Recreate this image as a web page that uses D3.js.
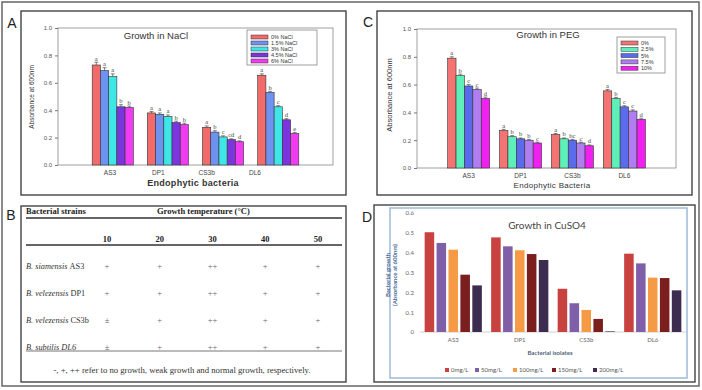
<!DOCTYPE html>
<html>
<head>
<meta charset="utf-8">
<script src="https://cdnjs.cloudflare.com/ajax/libs/d3/7.8.5/d3.min.js"></script>
<style>
  body { margin: 0; background: #fff; }
  svg { display: block; }
</style>
</head>
<body>
<svg id="fig"></svg>
<script>
'use strict'

// ---- data ----
var isolates = ["AS3", "DP1", "CS3b", "DL6"];

var naclSeries = ["0% NaCl", "1.5% NaCl", "3% NaCl", "4.5% NaCl", "6% NaCl"];
var naclValues = [
	[0.73, 0.69, 0.645, 0.425, 0.42],
	[0.38, 0.37, 0.355, 0.31, 0.295],
	[0.275, 0.24, 0.205, 0.185, 0.17],
	[0.655, 0.53, 0.425, 0.33, 0.23]
];
var naclErrors = [
	[0.02, 0.02, 0.02, 0.015, 0.01],
	[0.01, 0.01, 0.01, 0.01, 0.01],
	[0.01, 0.01, 0.008, 0.006, 0.006],
	[0.01, 0.008, 0.008, 0.008, 0.008]
];
var naclLetters = [
	["a", "a", "a", "b", "b"],
	["a", "a", "a", "b", "b"],
	["a", "b", "c", "cd", "d"],
	["a", "b", "c", "d", "e"]
];

var pegSeries = ["0%", "2.5%", "5%", "7.5%", "10%"];
var pegValues = [
	[0.79, 0.665, 0.59, 0.565, 0.50],
	[0.27, 0.225, 0.21, 0.20, 0.18],
	[0.24, 0.21, 0.20, 0.18, 0.16],
	[0.555, 0.50, 0.44, 0.41, 0.35]
];
var pegErrors = [
	[0.01, 0.01, 0.01, 0.01, 0.01],
	[0.008, 0.008, 0.006, 0.006, 0.006],
	[0.008, 0.006, 0.006, 0.006, 0.006],
	[0.01, 0.008, 0.008, 0.008, 0.008]
];
var pegLetters = [
	["a", "b", "c", "c", "d"],
	["a", "b", "b", "b", "c"],
	["a", "b", "bc", "c", "d"],
	["a", "b", "c", "c", "d"]
];

var cuSeries = ["0mg/L", "50mg/L", "100mg/L", "150mg/L", "200mg/L"];
var cuValues = [
	[0.503, 0.449, 0.415, 0.289, 0.235],
	[0.477, 0.432, 0.412, 0.393, 0.363],
	[0.218, 0.145, 0.111, 0.066, 0.003],
	[0.395, 0.346, 0.274, 0.272, 0.21]
];

var temps = ["10", "20", "30", "40", "50"];
var strainSpecies = ["B. siamensis", "B. velezensis", "B. velezensis", "B. subtilis"];
var strainCodes = ["AS3", "DP1", "CS3b", "DL6"];
var growth = [
	["+", "+", "++", "+", "+"],
	["+", "+", "++", "+", "+"],
	["\u00b1", "+", "++", "+", "+"],
	["\u00b1", "+", "++", "+", "+"]
];

// ---- styles ----
var W = 702, H = 390;
var naclColors = ["#f26b6b", "#6e92f0", "#3fe6e6", "#7b35dc", "#f03cf0"];
var pegColors = ["#f47474", "#5ef0b8", "#5a6cec", "#b07ef0", "#f020f0"];
var cuColors = ["#c8423f", "#7f60a8", "#f59a45", "#7a1e1e", "#3c2c50"];
var sans = "'Liberation Sans', Arial, sans-serif";
var serif = "'Liberation Serif', 'Times New Roman', serif";

var svg = d3.select("#fig").attr("width", W).attr("height", H);

// outer border + panel boxes
svg.append("rect").attr("x", 2).attr("y", 2).attr("width", 697).attr("height", 384)
	.style("fill", "none").style("stroke", "#666").style("stroke-width", 1.5);

var boxes = [[21, 11, 325, 184], [377, 11, 315, 184], [21, 206, 325, 176], [374, 205, 321, 177]];
boxes.forEach(function(b) {
	svg.append("rect").attr("x", b[0]).attr("y", b[1]).attr("width", b[2]).attr("height", b[3])
		.style("fill", "none").style("stroke", "#444").style("stroke-width", 1.4);
});

var panelLabels = [["A", 12, 28], ["B", 11, 220], ["C", 368, 27], ["D", 367, 222]];
panelLabels.forEach(function(p) {
	svg.append("text").attr("x", p[1]).attr("y", p[2]).attr("text-anchor", "middle")
		.style("font-family", sans).style("font-size", "14px").style("fill", "#222").text(p[0]);
});

drawSigmaPanel({
	left: 58, right: 333, top: 28, bottom: 165,
	padIn: 0.255, padOut: 0.62,
	labelRange: [110, 255],
	series: naclSeries, values: naclValues, errors: naclErrors, letters: naclLetters, colors: naclColors,
	title: "Growth in NaCl", titleX: 156, titleY: 39,
	xTitle: "Endophytic bacteria", xTitleX: 193, xTitleY: 186, xTitleWeight: "bold", xTitleSize: 9,
	yTitleX: 34, yTitleY: 97, yTitleSize: 6.5,
	legend: { x: 247, y: 30, w: 70, h: 35, sw: 17, rowH: 6, sy: 37 }
});

drawSigmaPanel({
	left: 417, right: 676, top: 29, bottom: 168,
	padIn: 0.19, padOut: 0.59,
	series: pegSeries, values: pegValues, errors: pegErrors, letters: pegLetters, colors: pegColors,
	title: "Growth in PEG", titleX: 548, titleY: 38,
	xTitle: "Endophytic Bacteria", xTitleX: 552, xTitleY: 188, xTitleWeight: "normal", xTitleSize: 8,
	yTitleX: 392, yTitleY: 95, yTitleSize: 7.5,
	legend: { x: 617, y: 37, w: 48, h: 36, sw: 17, rowH: 6.3, sy: 43 }
});

drawTable();
drawCuPanel();

function drawSigmaPanel(o) {
	var g = svg.append("g");

	var x0 = d3.scaleBand().domain(isolates).range([o.left, o.right])
		.paddingInner(o.padIn).paddingOuter(o.padOut);
	var x1 = d3.scaleBand().domain(d3.range(o.series.length)).range([0, x0.bandwidth()]);
	var y = d3.scaleLinear().domain([0, 1]).range([o.bottom, o.top]);

	// plot frame
	g.append("rect").attr("x", o.left).attr("y", o.top)
		.attr("width", o.right - o.left).attr("height", o.bottom - o.top)
		.style("fill", "none").style("stroke", "#888").style("stroke-width", 0.8);

	var yAxis = g.append("g").attr("transform", "translate(" + o.left + ",0)")
		.call(d3.axisLeft(y).tickValues([0, 0.2, 0.4, 0.6, 0.8, 1.0]).tickFormat(d3.format(".1f")).tickSize(3).tickPadding(3));
	yAxis.select(".domain").remove();
	yAxis.selectAll("line").style("stroke", "#777");
	yAxis.selectAll("text").style("font-family", sans).style("font-size", "6px").style("fill", "#555");

	// category labels (own scale, they sit where the original put them)
	var xl = o.labelRange
		? d3.scalePoint().domain(isolates).range(o.labelRange)
		: function(d) { return x0(d) + x0.bandwidth() / 2; };
	g.selectAll(".cat").data(isolates).enter().append("text")
		.attr("x", function(d) { return xl(d); })
		.attr("y", o.bottom + 10)
		.attr("text-anchor", "middle")
		.style("font-family", sans).style("font-size", "6.5px").style("fill", "#444")
		.text(function(d) { return d; });

	var groups = g.selectAll(".grp").data(isolates).enter().append("g")
		.attr("transform", function(d) { return "translate(" + x0(d) + ",0)"; });

	groups.each(function(name, gi) {
		var gg = d3.select(this);
		var vals = o.values[gi];
		gg.selectAll("rect").data(vals).enter().append("rect")
			.attr("x", function(d, i) { return x1(i); })
			.attr("y", function(d) { return y(d); })
			.attr("width", x1.bandwidth())
			.attr("height", function(d) { return y(0) - y(d); })
			.style("fill", function(d, i) { return o.colors[i]; })
			.style("stroke", "#333").style("stroke-width", 0.6);

		// error bars
		gg.selectAll(".err").data(vals).enter().append("path")
			.attr("d", function(d, i) {
				var cx = x1(i) + x1.bandwidth() / 2, top = y(d + o.errors[gi][i]);
				return "M" + cx + "," + y(d) + "V" + top + "M" + (cx - 2) + "," + top + "H" + (cx + 2);
			})
			.style("stroke", "#333").style("stroke-width", 0.6).style("fill", "none");

		gg.selectAll(".let").data(vals).enter().append("text")
			.attr("x", function(d, i) { return x1(i) + x1.bandwidth() / 2; })
			.attr("y", function(d, i) { return y(d + o.errors[gi][i]) - 1.5; })
			.attr("text-anchor", "middle")
			.style("font-family", serif).style("font-size", "6.5px").style("fill", "#444")
			.text(function(d, i) { return o.letters[gi][i]; });
	});

	g.append("text").attr("x", o.titleX).attr("y", o.titleY).attr("text-anchor", "middle")
		.style("font-family", sans).style("font-size", "9.5px").style("fill", "#333").text(o.title);

	g.append("text").attr("x", o.xTitleX).attr("y", o.xTitleY).attr("text-anchor", "middle")
		.style("font-family", sans).style("font-size", o.xTitleSize + "px").style("font-weight", o.xTitleWeight)
		.style("letter-spacing", "0.3px").style("fill", "#333").text(o.xTitle);

	g.append("text").attr("transform", "translate(" + o.yTitleX + "," + o.yTitleY + ") rotate(-90)")
		.attr("text-anchor", "middle")
		.style("font-family", sans).style("font-size", o.yTitleSize + "px").style("fill", "#333")
		.text("Absorbance at 600nm");

	// legend
	var L = o.legend;
	g.append("rect").attr("x", L.x).attr("y", L.y).attr("width", L.w).attr("height", L.h)
		.style("fill", "#fff").style("stroke", "#888").style("stroke-width", 0.8);
	var items = g.selectAll(".leg").data(o.series).enter().append("g")
		.attr("transform", function(d, i) { return "translate(" + (L.x + 4) + "," + (L.sy + i * L.rowH) + ")"; });
	items.append("rect").attr("x", 0).attr("y", -2).attr("width", L.sw).attr("height", 4)
		.style("fill", function(d, i) { return o.colors[i]; })
		.style("stroke", "#333").style("stroke-width", 0.5);
	items.append("text").attr("x", L.sw + 3).attr("y", 2)
		.style("font-family", sans).style("font-size", "5.5px").style("fill", "#333")
		.text(function(d) { return d; });
}

function drawTable() {
	var g = svg.append("g");
	var left = 26, right = 342;
	var col = d3.scalePoint().domain(temps).range([107, 318]);
	var rowY = d3.scalePoint().domain(d3.range(strainCodes.length)).range([269, 349.5]);

	g.append("text").attr("x", left).attr("y", 214)
		.style("font-family", serif).style("font-size", "8.5px").style("font-weight", "bold").style("fill", "#222")
		.text("Bacterial strains");
	g.append("text").attr("x", 157).attr("y", 214)
		.style("font-family", serif).style("font-size", "8.5px").style("font-weight", "bold").style("fill", "#222")
		.text("Growth temperature (\u00b0C)");

	[218, 245, 351].forEach(function(ly, i) {
		g.append("line").attr("x1", left).attr("x2", right).attr("y1", ly).attr("y2", ly)
			.style("stroke", i < 2 ? "#333" : "#777").style("stroke-width", i < 2 ? 1.3 : 1);
	});

	g.selectAll(".th").data(temps).enter().append("text")
		.attr("x", function(d) { return col(d); }).attr("y", 242)
		.attr("text-anchor", "middle")
		.style("font-family", serif).style("font-size", "8.5px").style("font-weight", "bold").style("fill", "#222")
		.text(function(d) { return d; });

	strainCodes.forEach(function(code, r) {
		var t = g.append("text").attr("x", left).attr("y", rowY(r))
			.style("font-family", serif).style("font-size", "8.3px").style("fill", "#333");
		t.append("tspan").style("font-style", "italic").text(strainSpecies[r] + " ");
		t.append("tspan").style("font-style", r === 3 ? "italic" : "normal").text(code);

		g.selectAll(".v" + r).data(growth[r]).enter().append("text")
			.attr("x", function(d, i) { return col(temps[i]); }).attr("y", rowY(r))
			.attr("text-anchor", "middle")
			.style("font-family", serif).style("font-size", "8.5px").style("fill", "#666")
			.text(function(d) { return d; });
	});

	g.append("text").attr("x", 182).attr("y", 373).attr("text-anchor", "middle")
		.style("font-family", serif).style("font-size", "8.7px").style("fill", "#333")
		.text("-, +, ++ refer to no growth, weak growth and normal growth, respectively.");
}

function drawCuPanel() {
	var g = svg.append("g");
	var font = "Lato, 'Open Sans', sans-serif";

	g.append("rect").attr("x", 390).attr("y", 208).attr("width", 297).attr("height", 170)
		.style("fill", "none").style("stroke", "#9fb9d6").style("stroke-width", 1.5);

	var x0 = d3.scaleBand().domain(isolates).range([420, 686]).paddingInner(0.14).paddingOuter(0.07);
	var x1 = d3.scaleBand().domain(d3.range(cuSeries.length)).range([0, x0.bandwidth()]).paddingInner(0.2);
	var y = d3.scaleLinear().domain([0, 0.6]).range([332, 213]);

	var yAxis = g.append("g").attr("transform", "translate(418,0)")
		.call(d3.axisLeft(y).tickValues([0, 0.1, 0.2, 0.3, 0.4, 0.5, 0.6]).tickFormat(d3.format("")).tickSize(0).tickPadding(4));
	yAxis.select(".domain").remove();
	yAxis.selectAll("text").style("font-family", font).style("font-size", "6px").style("fill", "#666");

	g.append("line").attr("x1", 420).attr("x2", 686).attr("y1", y(0)).attr("y2", y(0))
		.style("stroke", "#c4c4c4").style("stroke-width", 0.8);

	g.selectAll(".grp").data(isolates).enter().append("g")
		.attr("transform", function(d) { return "translate(" + x0(d) + ",0)"; })
		.each(function(name, gi) {
			d3.select(this).selectAll("rect").data(cuValues[gi]).enter().append("rect")
				.attr("x", function(d, i) { return x1(i); })
				.attr("y", function(d) { return y(d); })
				.attr("width", x1.bandwidth())
				.attr("height", function(d) { return y(0) - y(d); })
				.style("fill", function(d, i) { return cuColors[i]; });
		});

	g.selectAll(".cat").data(isolates).enter().append("text")
		.attr("x", function(d) { return x0(d) + x0.bandwidth() / 2; })
		.attr("y", 342)
		.attr("text-anchor", "middle")
		.style("font-family", font).style("font-size", "6px").style("fill", "#666")
		.text(function(d) { return d; });

	g.append("text").attr("x", 547).attr("y", 229).attr("text-anchor", "middle")
		.style("font-family", font).style("font-size", "10px").style("fill", "#444").text("Growth in CuSO4");

	g.append("text").attr("x", 550).attr("y", 355).attr("text-anchor", "middle")
		.style("font-family", font).style("font-size", "6px").style("font-weight", "bold").style("fill", "#4d5f78")
		.text("Bacterial isolates");

	var yt = g.append("text").attr("transform", "translate(390,275) rotate(-90)").attr("text-anchor", "middle")
		.style("font-family", font).style("font-size", "6px").style("font-weight", "bold").style("fill", "#4a6a9a");
	yt.append("tspan").attr("x", 0).attr("dy", 0).text("Bacterial growth");
	yt.append("tspan").attr("x", 0).attr("dy", 7).text("(Absorbance at 600nm)");

	var legX = [445, 475, 513, 552, 593];
	var items = g.selectAll(".leg").data(cuSeries).enter().append("g")
		.attr("transform", function(d, i) { return "translate(" + legX[i] + ",370)"; });
	items.append("rect").attr("x", 0).attr("y", -2).attr("width", 4).attr("height", 4)
		.style("fill", function(d, i) { return cuColors[i]; });
	items.append("text").attr("x", 6).attr("y", 2)
		.style("font-family", font).style("font-size", "6px").style("fill", "#555")
		.text(function(d) { return d; });
}
</script>
</body>
</html>
